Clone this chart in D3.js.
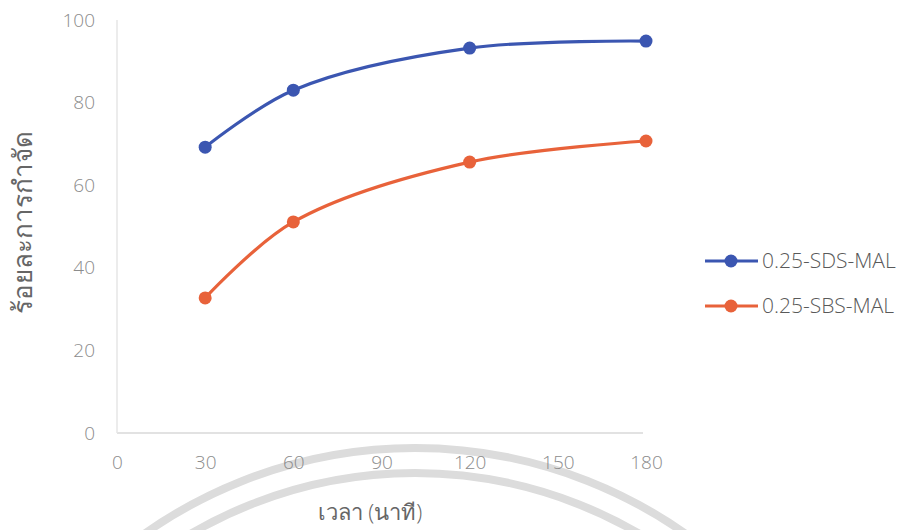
<!DOCTYPE html>
<html><head><meta charset="utf-8">
<script src="https://cdn.jsdelivr.net/npm/d3@7/dist/d3.min.js"></script>
<style>body{margin:0;background:#fff}svg{display:block}text{font-family:"Open Sans","Noto Sans","DejaVu Sans",sans-serif}</style>
</head><body><svg id="c" width="906" height="530"></svg>
<script>
const times = [30, 60, 120, 180];
const sdsMal = [69.2, 83.0, 93.2, 94.9];
const sbsMal = [32.7, 51.1, 65.6, 70.7];
const seriesNames = ["0.25-SDS-MAL", "0.25-SBS-MAL"];
const seriesColors = ["#3b56b1", "#e8623a"];
const xTicks = [0, 30, 60, 90, 120, 150, 180];
const yTicks = [0, 20, 40, 60, 80, 100];
const xTitle = "เวลา (นาที)";
const yTitle = "ร้อยละการกำจัด";

const svg = d3.select("#c");
// faint watermark arcs
const wm = svg.append("g");
[469, 444].forEach(r => wm.append("circle").attr("cx", 415).attr("cy", 917).attr("r", r)
  .attr("fill", "none").attr("stroke", "#dcdcdc").attr("stroke-width", 8));

const x = d3.scaleLinear().domain([0, 180]).range([117, 646]);
const y = d3.scaleLinear().domain([0, 100]).range([433, 20]);

// axes lines
svg.append("line").attr("x1", x(0)).attr("x2", 643).attr("y1", y(0)).attr("y2", y(0)).attr("stroke", "#d9d9d9").attr("stroke-width", 1.5);
svg.append("line").attr("x1", x(0)).attr("x2", x(0)).attr("y1", y(0)).attr("y2", y(100)).attr("stroke", "#e6e6e6").attr("stroke-width", 1.5);

const xAxis = svg.append("g").attr("transform", `translate(0,${y(0)})`)
  .call(d3.axisBottom(x).tickValues(xTicks).tickSize(0).tickPadding(23).tickFormat(d3.format("d")));
xAxis.select(".domain").remove();
const yAxis = svg.append("g").attr("transform", `translate(${x(0)},0)`)
  .call(d3.axisLeft(y).tickValues(yTicks).tickSize(0).tickPadding(22).tickFormat(d3.format("d")));
yAxis.select(".domain").remove();
svg.selectAll(".tick text").attr("fill", "#8c8c8c").attr("font-size", 19).attr("font-weight", 300)
  .attr("font-family", '"Open Sans","Noto Sans",sans-serif');

const data = [sdsMal, sbsMal];
const line = d3.line().x((d, i) => x(times[i])).y(d => y(d)).curve(d3.curveCatmullRom.alpha(0.5));
data.forEach((vals, k) => {
  svg.append("path").datum(vals).attr("d", line).attr("fill", "none")
    .attr("stroke", seriesColors[k]).attr("stroke-width", 3.2);
  svg.selectAll(null).data(vals).enter().append("circle")
    .attr("cx", (d, i) => x(times[i])).attr("cy", d => y(d)).attr("r", 6.5).attr("fill", seriesColors[k]);
});

// legend
seriesNames.forEach((n, k) => {
  const ly = 261 + k * 45;
  const g = svg.append("g");
  g.append("line").attr("x1", 705).attr("x2", 758).attr("y1", ly).attr("y2", ly).attr("stroke", seriesColors[k]).attr("stroke-width", 3.2);
  g.append("circle").attr("cx", 731).attr("cy", ly).attr("r", 6.5).attr("fill", seriesColors[k]);
  g.append("text").attr("x", 762).attr("y", ly).attr("dy", "0.35em").attr("font-size", 21).attr("font-weight", 300).attr("fill", "#595959").text(n);
});

// titles
const thaiFont = '"Noto Sans Thai","Noto Sans Thai UI","Loma","Garuda","Waree","Sarabun","Open Sans",sans-serif';
svg.append("text").attr("x", 370).attr("y", 520).attr("text-anchor", "middle").attr("font-size", 22).attr("font-weight", 300)
  .attr("font-family", thaiFont).attr("fill", "#666").text(xTitle);
svg.append("text").attr("transform", "translate(32,222) rotate(-90)").attr("text-anchor", "middle").attr("font-size", 26).attr("font-weight", 300)
  .attr("font-family", thaiFont).attr("fill", "#666").text(yTitle);
</script></body></html>
